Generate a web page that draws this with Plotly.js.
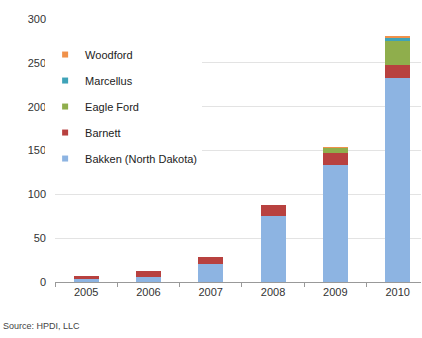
<!DOCTYPE html>
<html>
<head>
<meta charset="utf-8">
<script src="https://cdn.plot.ly/plotly-3.0.1.min.js"></script>
<style>html,body{margin:0;padding:0;background:#fff;overflow:hidden;}</style>
</head>
<body>
<div id="chart" style="width:422px;height:338px;"></div>
<script>
const years = ['2005', '2006', '2007', '2008', '2009', '2010'];
const bakken = [3, 6, 20, 75, 134, 233];
const barnett = [4, 6, 8.5, 13, 13.5, 14];
const eagleFord = [0, 0, 0, 0, 5, 28];
const marcellus = [0, 0, 0, 0, 0.5, 3.5];
const woodford = [0, 0, 0, 0, 1, 2];
const seriesNames = ['Bakken (North Dakota)', 'Barnett', 'Eagle Ford', 'Marcellus', 'Woodford'];
const seriesColors = ['#8DB4E2', '#B8413F', '#8FAE4C', '#3FA3B8', '#F0914A'];
const yTicks = [0, 50, 100, 150, 200, 250, 300];

const seriesValues = [bakken, barnett, eagleFord, marcellus, woodford];
const traces = [];
seriesValues.forEach((vals, i) => {
  traces.push({
    type: 'bar', x: years, y: vals, name: seriesNames[i],
    marker: {color: seriesColors[i]}, showlegend: false,
    hoverinfo: 'x+y+name'
  });
});
// legend entries (small square swatches), listed top to bottom
for (let i = seriesValues.length - 1; i >= 0; i--) {
  traces.push({
    type: 'scatter', mode: 'markers', x: [null], y: [null], name: seriesNames[i],
    marker: {color: seriesColors[i], symbol: 'square', size: 6},
    legendgroup: 'g' + i, showlegend: true
  });
}

const layout = {
  width: 422, height: 338,
  margin: {l: 55, r: 1, t: 19, b: 56},
  paper_bgcolor: '#fff', plot_bgcolor: '#fff',
  font: {family: '"Liberation Sans", Arial, sans-serif', size: 11, color: '#333'},
  barmode: 'stack', bargap: 0.6,
  xaxis: {
    type: 'category', range: [-0.5, 5.375], tickson: 'boundaries',
    ticks: 'outside', ticklen: 4, tickcolor: '#999', showline: true, linecolor: '#999',
    showgrid: false, tickfont: {size: 11, color: '#333'}, fixedrange: true
  },
  yaxis: {
    range: [0, 300], tickvals: yTicks, showgrid: true, gridcolor: '#e3e3e3',
    zeroline: false, ticks: '', tickfont: {size: 11, color: '#333'}, ticklabelstandoff: 8,
    fixedrange: true
  },
  legend: {
    x: -0.027, xanchor: 'left', y: 0.92, yanchor: 'top',
    traceorder: 'grouped', tracegroupgap: 7,
    bgcolor: '#fff', font: {size: 11, color: '#222'}
  },
  annotations: [{
    text: 'Source: HPDI, LLC', xref: 'paper', yref: 'paper',
    x: -0.147, y: -0.14, xanchor: 'left', yanchor: 'top', showarrow: false,
    font: {size: 9, color: '#444'}
  }],
  showlegend: true
};
Plotly.newPlot('chart', traces, layout, {displayModeBar: false, staticPlot: true});
</script>
</body>
</html>
